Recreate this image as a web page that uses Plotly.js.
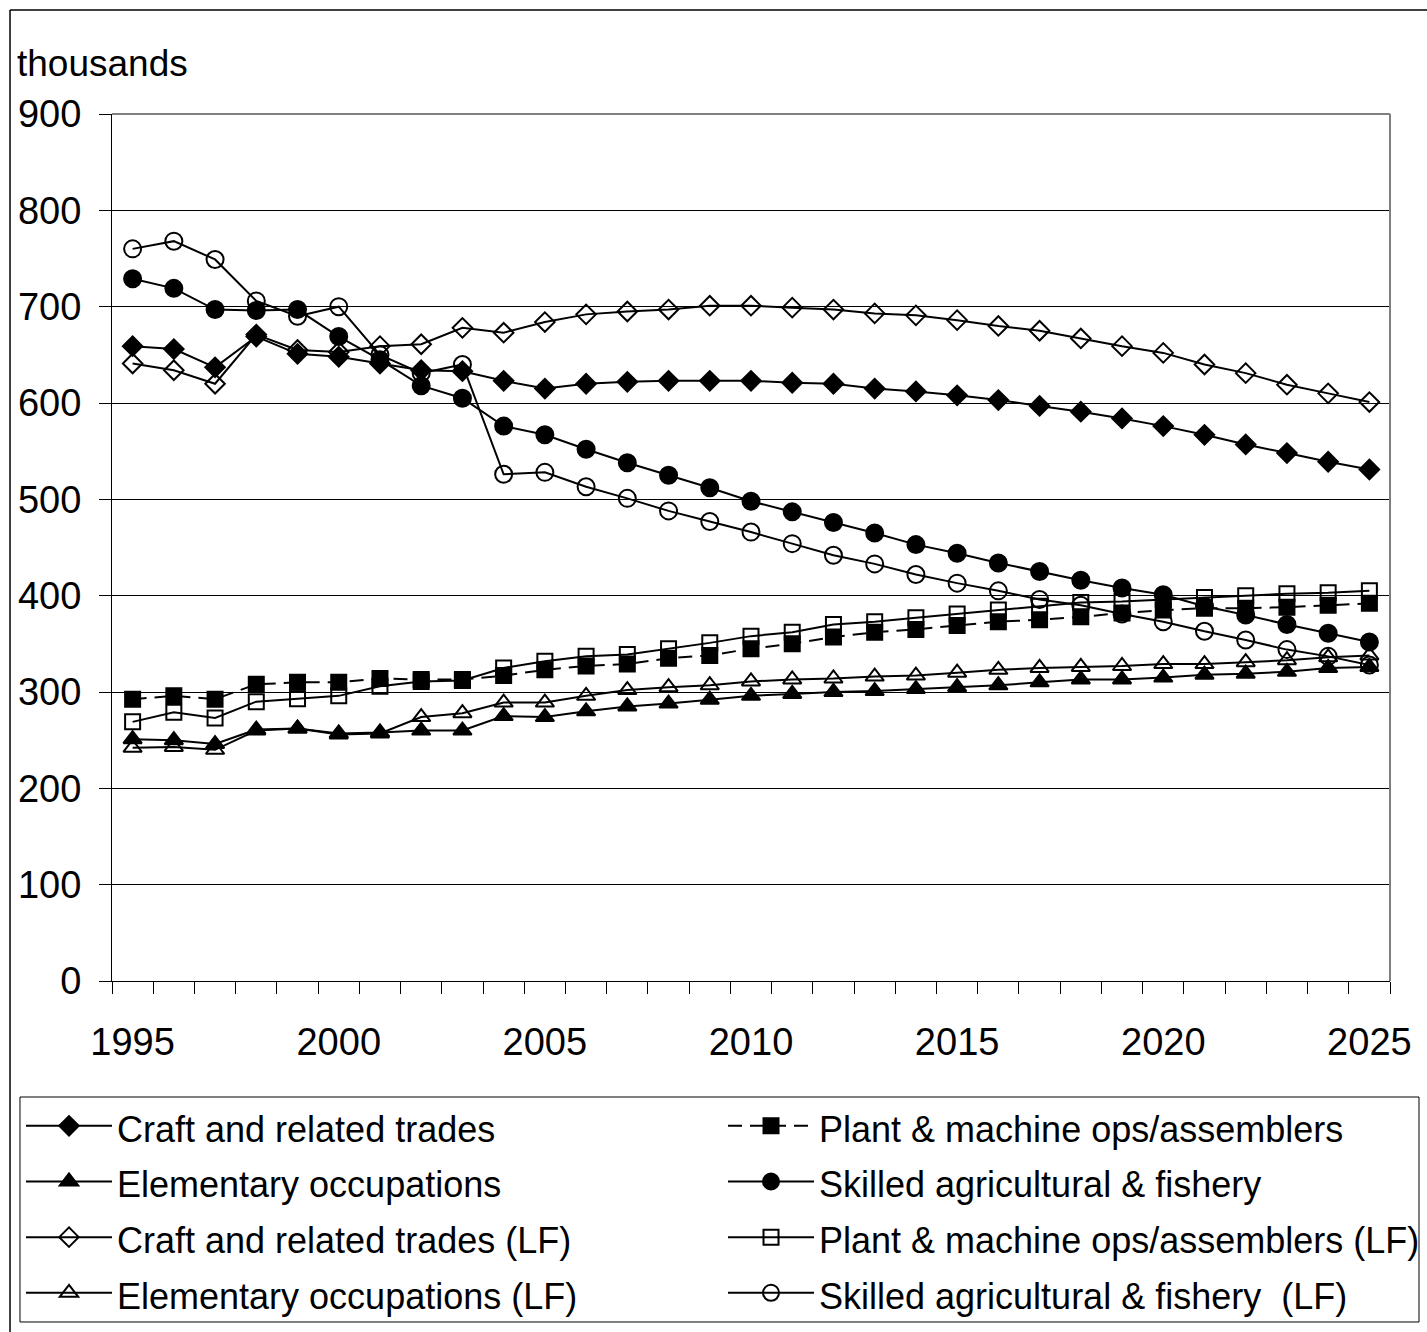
<!DOCTYPE html>
<html>
<head>
<meta charset="utf-8">
<script src="https://cdn.plot.ly/plotly-3.0.1.min.js"></script>
<style>
  html, body { margin: 0; padding: 0; background: #fff; }
  #chart { width: 1427px; height: 1332px; }
</style>
</head>
<body>
<div id="chart"></div>
<script>
const years = [1995,1996,1997,1998,1999,2000,2001,2002,2003,2004,2005,2006,2007,2008,2009,2010,2011,2012,2013,2014,2015,2016,2017,2018,2019,2020,2021,2022,2023,2024,2025];
const yearTicks = [1995,2000,2005,2010,2015,2020,2025];
const yTicks = [0,100,200,300,400,500,600,700,800,900];

const craft      = [659,656,637,669,651,648,641,634,633,623,615,620,622,623,623,623,621,620,615,612,608,603,597,591,584,576,567,557,548,539,531];
const plant      = [292.5,296,292.5,308,310,310,314,313,313,317,323,327,329,335,338,345,350,357,362,365,369,373,375,378,382,385,387,387,388,390,392];
const elementary = [251,250,246,261,262,257,258,260,260,275,274,280,285,288,292,296,298,300,301,303,305,307,310,313,313,315,318,319,321,325,326];
const skilled    = [729,719,697,696,697,669,645,618,605,576,567,552,538,525,512,498,487,476,465,453,444,434,425,416,408,401,389,380,370,361,352];
const craftLF    = [641,634,620,671,655,653,659,661,678,673,684,692,695,697,701,701,699,697,693,691,686,680,675,667,659,652,640,631,619,610,601];
const plantLF    = [269,279,273,290,293,296,306,311,312,325,332,337,339,345,351,358,362,370,373,377,381,385,389,393,394,396,398,400,402,403,405];
const elemLF     = [242,243,240,260,262,256,257,274,278,289,289,296,302,305,307,311,313,314,316,317,320,323,325,326,327,329,329,331,333,336,338];
const skilledLF  = [760,768,749,706,690,700,650,631,640,526,528,513,501,488,477,466,454,442,433,422,413,405,396,390,381,373,363,354,344,337,328];

const names = [
  "Craft and related trades",
  "Plant & machine ops/assemblers",
  "Elementary occupations",
  "Skilled agricultural & fishery",
  "Craft and related trades (LF)",
  "Plant & machine ops/assemblers (LF)",
  "Elementary occupations (LF)",
  "Skilled agricultural & fishery  (LF)"
];

function tr(name, y, symbol, size, legend, dash) {
  return {
    type: 'scatter', mode: 'lines+markers',
    name: '<span style="font-size:36px">' + name.replace(/  /g, ' &nbsp;') + '</span>',
    legend: legend,
    x: years, y: y,
    line: { color: '#000', width: 2, dash: dash || 'solid' },
    marker: { symbol: symbol, size: size, color: '#000', line: { color: '#000', width: 2 } }
  };
}

const data = [
  tr(names[0], craft, 'diamond', 15, 'legend'),
  tr(names[1], plant, 'square', 15, 'legend2', '14px,8px'),
  tr(names[2], elementary, 'triangle-up', 16, 'legend'),
  tr(names[3], skilled, 'circle', 17, 'legend2'),
  tr(names[4], craftLF, 'diamond-open', 15, 'legend'),
  tr(names[5], plantLF, 'square-open', 15, 'legend2'),
  tr(names[6], elemLF, 'triangle-up-open', 16, 'legend'),
  tr(names[7], skilledLF, 'circle-open', 17, 'legend2')
];

const font = { family: 'Liberation Sans, Arial, sans-serif', color: '#000' };

function legendAt(x) {
  return {
    orientation: 'v',
    x: x, xanchor: 'left',
    y: -0.1292, yanchor: 'top',
    bgcolor: 'rgba(0,0,0,0)', borderwidth: 0,
    font: Object.assign({ size: 40.5 }, font),
    itemwidth: 86,
    tracegroupgap: 0,
    traceorder: 'normal'
  };
}

const layout = {
  width: 1427, height: 1332,
  margin: { l: 112, r: 37, t: 114, b: 351, autoexpand: false },
  paper_bgcolor: '#fff', plot_bgcolor: '#fff',
  font: Object.assign({ size: 38 }, font),
  showlegend: true,
  xaxis: {
    range: [1994.5, 2025.5],
    tickmode: 'array', tickvals: yearTicks, ticktext: yearTicks.map(String),
    ticks: '', showgrid: false, zeroline: false,
    showline: true, linecolor: '#000', linewidth: 1,
    ticklabelstandoff: 27,
    tickfont: Object.assign({ size: 38 }, font),
    minor: { tickmode: 'linear', tick0: 1994.5, dtick: 1, ticks: 'outside', ticklen: 12, tickcolor: '#000', tickwidth: 1, showgrid: false }
  },
  yaxis: {
    range: [0, 900],
    tickmode: 'array', tickvals: yTicks,
    ticks: 'outside', ticklen: 12, tickcolor: '#000', tickwidth: 1,
    showgrid: true, gridcolor: '#000', gridwidth: 1,
    zeroline: false,
    showline: true, linecolor: '#000', linewidth: 1,
    ticklabelstandoff: 10,
    tickfont: Object.assign({ size: 38 }, font)
  },
  legend: legendAt(-0.0712),
  legend2: legendAt(0.4781),
  annotations: [{
    text: 'thousands', xref: 'paper', yref: 'paper',
    x: -0.0759, xanchor: 'left', y: 1.0588, yanchor: 'middle',
    showarrow: false, font: Object.assign({ size: 37 }, font)
  }],
  shapes: [
    { type: 'line', xref: 'paper', yref: 'paper', x0: 0, x1: 1, y0: 1, y1: 1, line: { color: '#808080', width: 2 }, layer: 'above' },
    { type: 'line', xref: 'paper', yref: 'paper', x0: 1, x1: 1, y0: 0, y1: 1, line: { color: '#808080', width: 2 }, layer: 'above' },
    { type: 'line', xref: 'paper', yref: 'paper', x0: -0.0798, x1: 1.05, y0: 1.1199, y1: 1.1199, line: { color: '#000', width: 1.5 } },
    { type: 'line', xref: 'paper', yref: 'paper', x0: -0.0798, x1: -0.0798, y0: 1.1199, y1: -0.41, line: { color: '#000', width: 1.5 } },
    { type: 'rect', xref: 'paper', yref: 'paper', x0: -0.0720, x1: 1.0227, y0: -0.3933, y1: -0.1338, line: { color: '#000', width: 1 }, fillcolor: 'rgba(0,0,0,0)' }
  ]
};

Plotly.newPlot('chart', data, layout, { displayModeBar: false, staticPlot: true });
</script>
</body>
</html>
